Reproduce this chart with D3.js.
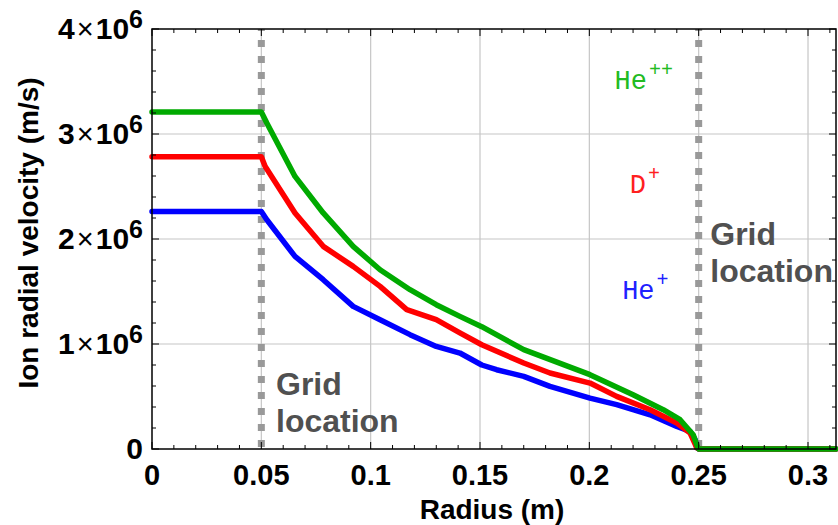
<!DOCTYPE html>
<html>
<head>
<meta charset="utf-8">
<script src="https://cdn.jsdelivr.net/npm/d3@7"></script>
<style>
  body { margin: 0; background: #fff; }
  svg { display: block; font-family: "Liberation Sans", Arial, sans-serif; }
  .tick-lbl { font-weight: bold; font-size: 29px; fill: #000; }
  .ytick-lbl { font-weight: bold; font-size: 30px; fill: #000; }
  .axis-title { font-weight: bold; font-size: 28px; fill: #000; }
  .grid-note { font-weight: bold; font-size: 32px; fill: #505050; }
  .ion { font-family: "Courier New", "Liberation Mono", monospace; font-size: 27px; }
</style>
</head>
<body>
<div id="chart"></div>
<script>
// data (radius in m, velocity in units of 1e6 m/s)
const heppR = [0, 0.05, 0.0525, 0.0654, 0.0783, 0.092, 0.1043, 0.118, 0.130, 0.1408, 0.1508, 0.170, 0.2003, 0.220, 0.2338, 0.2415, 0.2475, 0.2496, 0.25, 0.3128];
const heppV = [3.21, 3.21, 3.105, 2.596, 2.248, 1.93, 1.707, 1.517, 1.374, 1.263, 1.165, 0.946, 0.708, 0.517, 0.374, 0.279, 0.136, 0.012, 0, 0];

const dR = [0, 0.05, 0.0517, 0.0654, 0.0783, 0.092, 0.1043, 0.1165, 0.130, 0.1408, 0.1508, 0.170, 0.182, 0.2003, 0.2125, 0.2278, 0.240, 0.2461, 0.2491, 0.25, 0.3128];
const dV = [2.784, 2.784, 2.692, 2.248, 1.930, 1.739, 1.549, 1.327, 1.232, 1.105, 0.993, 0.819, 0.724, 0.628, 0.501, 0.374, 0.247, 0.152, 0.012, 0, 0];

const hepR = [0, 0.05, 0.0525, 0.0654, 0.0783, 0.092, 0.1043, 0.118, 0.130, 0.1408, 0.1508, 0.1576, 0.170, 0.182, 0.2003, 0.2125, 0.2278, 0.240, 0.2461, 0.2484, 0.2491, 0.25, 0.3128];
const hepV = [2.263, 2.263, 2.183, 1.834, 1.612, 1.358, 1.231, 1.089, 0.977, 0.914, 0.80, 0.755, 0.692, 0.596, 0.485, 0.422, 0.326, 0.215, 0.168, 0.089, 0.012, 0, 0];

const xTicks = [0, 0.05, 0.1, 0.15, 0.2, 0.25, 0.3];
const xTickLabels = ["0", "0.05", "0.1", "0.15", "0.2", "0.25", "0.3"];
const yTicks = [0, 1, 2, 3, 4];
const gridLocations = [0.05, 0.25];

// set the dimensions and margins of the graph
const margin = { top: 29, right: 2, bottom: 76, left: 152 },
    width = 838 - margin.left - margin.right,
    height = 525 - margin.top - margin.bottom;

const svgRoot = d3.select("#chart")
    .append("svg")
    .attr("width", 838)
    .attr("height", 525);
const svg = svgRoot.append("g")
    .attr("transform", `translate(${margin.left}, ${margin.top})`);

const x = d3.scaleLinear().domain([0, 0.3128]).range([0, width]);
const y = d3.scaleLinear().domain([0, 4]).range([height, 0]);

// grid lines
svg.append("g")
    .selectAll("line")
    .data(xTicks.filter(d => d > 0))
    .enter().append("line")
    .attr("x1", d => x(d)).attr("x2", d => x(d))
    .attr("y1", 0).attr("y2", height)
    .attr("stroke", "#c6c6c6").attr("stroke-width", 1.2);
svg.append("g")
    .selectAll("line")
    .data(yTicks.filter(d => d > 0 && d < 4))
    .enter().append("line")
    .attr("x1", 0).attr("x2", width)
    .attr("y1", d => y(d)).attr("y2", d => y(d))
    .attr("stroke", "#c6c6c6").attr("stroke-width", 1.2);

// dotted grid location markers
svg.append("g")
    .selectAll("line")
    .data(gridLocations)
    .enter().append("line")
    .attr("x1", d => x(d)).attr("x2", d => x(d))
    .attr("y1", 0).attr("y2", height)
    .attr("stroke", "#999")
    .attr("stroke-width", 7)
    .attr("stroke-dasharray", "7,9")
    .attr("stroke-dashoffset", 5);

// curves
const line = d3.line()
    .x(d => x(d[0]))
    .y(d => y(d[1]));
const series = [
    { r: hepR, v: hepV, color: "#0000ff" },
    { r: dR, v: dV, color: "#ff0000" },
    { r: heppR, v: heppV, color: "#00aa00" }
];
svg.append("g")
    .selectAll("path")
    .data(series)
    .enter().append("path")
    .attr("d", s => line(s.r.map((r, i) => [r, s.v[i]])))
    .attr("fill", "none")
    .attr("stroke", s => s.color)
    .attr("stroke-width", 5.5)
    .attr("stroke-linecap", "round")
    .attr("stroke-linejoin", "round");

// frame
svg.append("rect")
    .attr("x", 0).attr("y", 0)
    .attr("width", width).attr("height", height)
    .attr("fill", "none")
    .attr("stroke", "#000")
    .attr("stroke-width", 1.5);

// ticks on all four sides, pointing in
const xMinor = d3.range(0, 0.3128, 0.01);
const yMinor = d3.range(0, 4.0001, 0.2);
const tickG = svg.append("g").attr("stroke", "#000").attr("stroke-width", 1);
xMinor.forEach(function (d) {
    const major = Math.abs(Math.round(d / 0.05) * 0.05 - d) < 1e-6;
    const len = major ? 7 : 4;
    tickG.append("line").attr("x1", x(d)).attr("x2", x(d)).attr("y1", height).attr("y2", height - len);
    tickG.append("line").attr("x1", x(d)).attr("x2", x(d)).attr("y1", 0).attr("y2", len);
});
yMinor.forEach(function (d) {
    const major = Math.abs(Math.round(d) - d) < 1e-6;
    const len = major ? 7 : 4;
    tickG.append("line").attr("x1", 0).attr("x2", len).attr("y1", y(d)).attr("y2", y(d));
    tickG.append("line").attr("x1", width).attr("x2", width - len).attr("y1", y(d)).attr("y2", y(d));
});

// x tick labels
svg.append("g")
    .selectAll("text")
    .data(xTicks)
    .enter().append("text")
    .attr("class", "tick-lbl")
    .attr("x", d => x(d))
    .attr("y", height + 36)
    .attr("text-anchor", "middle")
    .text((d, i) => xTickLabels[i]);

// y tick labels, n×10^6
const yl = svg.append("g")
    .selectAll("text")
    .data(yTicks)
    .enter().append("text")
    .attr("class", "ytick-lbl")
    .attr("x", -9)
    .attr("y", d => y(d) + 10)
    .attr("text-anchor", "end");
yl.each(function (d) {
    const t = d3.select(this);
    if (d === 0) { t.text("0"); return; }
    t.append("tspan").text(d);
    t.append("tspan").attr("font-weight", "normal").attr("font-size", "29px").attr("dx", 2).text("×");
    t.append("tspan").attr("dx", 2).text("10");
    t.append("tspan").attr("font-size", "25px").attr("dy", -11).attr("dx", 0).text("6");
});

// axis titles
svg.append("text")
    .attr("class", "axis-title")
    .attr("x", width / 2 - 2)
    .attr("y", height + 70)
    .attr("text-anchor", "middle")
    .text("Radius (m)");
svg.append("text")
    .attr("class", "axis-title")
    .attr("transform", `translate(${38 - margin.left}, ${height / 2 - 6}) rotate(-90)`)
    .attr("text-anchor", "middle")
    .text("Ion radial velocity (m/s)");

// grid location notes
const notes = [{ r: 0.0567, v: 0.51 }, { r: 0.2553, v: 1.94 }];
notes.forEach(function (n) {
    const t = svg.append("text").attr("class", "grid-note")
        .attr("x", x(n.r)).attr("y", y(n.v));
    t.append("tspan").text("Grid");
    t.append("tspan").attr("x", x(n.r)).attr("dy", 36.6).text("location");
});

// ion labels
const ions = [
    { name: "He", sup: "++", color: "#22bb22", r: 0.2115, v: 3.43 },
    { name: "D", sup: "+", color: "#ff2020", r: 0.2185, v: 2.435 },
    { name: "He", sup: "+", color: "#2020ff", r: 0.2150, v: 1.425 }
];
ions.forEach(function (d) {
    const t = svg.append("text").attr("class", "ion")
        .attr("x", x(d.r)).attr("y", y(d.v))
        .attr("fill", d.color);
    t.append("tspan").text(d.name);
    t.append("tspan").attr("font-size", "20px").attr("dx", 2).attr("dy", -13).text(d.sup);
});
</script>
</body>
</html>
